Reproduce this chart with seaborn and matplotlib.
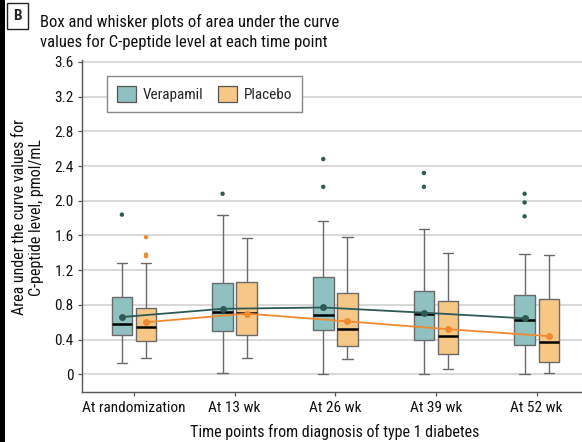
import numpy as np
import pandas as pd
import matplotlib
matplotlib.use("Agg")
import matplotlib.pyplot as plt
from matplotlib import font_manager
from matplotlib.patches import Patch, Rectangle
import seaborn as sns

# ---------------- data ----------------
times = ["At randomization", "At 13 wk", "At 26 wk", "At 39 wk", "At 52 wk"]
groups = ["Verapamil", "Placebo"]

ver_low = [0.13, 0.02, 0.0, 0.0, 0.0]
ver_q1 = [0.45, 0.50, 0.51, 0.39, 0.34]
ver_med = [0.58, 0.72, 0.68, 0.69, 0.63]
ver_q3 = [0.89, 1.05, 1.12, 0.96, 0.91]
ver_high = [1.28, 1.83, 1.77, 1.67, 1.39]
ver_mean = [0.66, 0.755, 0.77, 0.71, 0.645]
ver_fliers = [[1.84], [2.08], [2.48, 2.16], [2.32, 2.16], [2.08, 1.98, 1.82]]

pla_low = [0.19, 0.19, 0.18, 0.06, 0.02]
pla_q1 = [0.385, 0.45, 0.33, 0.23, 0.14]
pla_med = [0.54, 0.705, 0.52, 0.445, 0.37]
pla_q3 = [0.765, 1.065, 0.935, 0.84, 0.87]
pla_high = [1.28, 1.57, 1.58, 1.40, 1.38]
pla_mean = [0.60, 0.70, 0.61, 0.52, 0.44]
pla_fliers = [[1.58, 1.38, 1.36], [], [], [], []]

yticks = [0, 0.4, 0.8, 1.2, 1.6, 2.0, 2.4, 2.8, 3.2, 3.6]
ytick_labels = ["0", "0.4", "0.8", "1.2", "1.6", "2.0", "2.4", "2.8", "3.2", "3.6"]

# ---------------- style ----------------
sns.set_style("white")


def pick_condensed():
    prefs = ["Roboto Condensed", "Liberation Sans Narrow", "Open Sans Condensed",
             "Noto Sans Condensed", "DejaVu Sans Condensed"]
    names = {f.name for f in font_manager.fontManager.ttflist}
    for p in prefs:
        if p in names:
            return p, "normal"
    for f in font_manager.fontManager.ttflist:
        st = str(f.stretch).lower()
        fn = f.fname.lower()
        if (st in ("condensed", "semi-condensed") or "condensed" in fn) and \
                f.style == "normal" and str(f.weight) in ("400", "normal", "regular"):
            return f.name, st if st in ("condensed", "semi-condensed") else "condensed"
    return None, "normal"


cname, cstretch = pick_condensed()
if cname is not None:
    FAM = [cname, "DejaVu Sans"]
    plt.rcParams["font.stretch"] = cstretch
    FS = 11
else:
    FAM = ["Roboto", "DejaVu Sans"]
    FS = 10
plt.rcParams["font.family"] = FAM

box_palette = {"Verapamil": "#8fc1c0", "Placebo": "#f6c785"}
dot_palette = {"Verapamil": "#2e5a55", "Placebo": "#f08a30"}
offsets = {"Verapamil": -0.12, "Placebo": 0.12}

# tables built from the arrays
stats = {
    "Verapamil": (ver_low, ver_q1, ver_med, ver_q3, ver_high, ver_mean, ver_fliers),
    "Placebo": (pla_low, pla_q1, pla_med, pla_q3, pla_high, pla_mean, pla_fliers),
}
box_rows, mean_rows, flier_rows = [], [], []
for g in groups:
    lo, q1, md, q3, hi, mn, fl = stats[g]
    for i, t in enumerate(times):
        for v in (lo[i], q1[i], md[i], q3[i], hi[i]):
            box_rows.append({"time": t, "group": g, "value": v})
        mean_rows.append({"xpos": i + offsets[g], "group": g, "mean": mn[i]})
        for v in fl[i]:
            flier_rows.append({"xpos": i + offsets[g], "group": g, "value": v})
box_df = pd.DataFrame(box_rows)
mean_df = pd.DataFrame(mean_rows)
flier_df = pd.DataFrame(flier_rows)

# ---------------- figure ----------------
W, H = 582, 442
fig = plt.figure(figsize=(W / 100, H / 100), dpi=100)
ax_bottom, ax_top = 392.3, 60.1
ax = fig.add_axes([82 / W, 1 - ax_bottom / H, 1 - 82 / W, (ax_bottom - ax_top) / H])

sns.boxplot(data=box_df, x="time", y="value", hue="group", order=times,
            hue_order=groups, palette=box_palette, saturation=1,
            width=0.48, gap=0.15, whis=(0, 100), showfliers=False,
            linecolor="#6a6a6a", linewidth=1.0,
            medianprops={"color": "black", "linewidth": 1.8},
            legend=False, ax=ax)

sns.lineplot(data=mean_df, x="xpos", y="mean", hue="group", hue_order=groups,
             palette=dot_palette, marker="o", markersize=5,
             markeredgewidth=0, linewidth=1.3, sort=False, legend=False,
             ax=ax, zorder=5)

sns.scatterplot(data=flier_df, x="xpos", y="value", hue="group",
                hue_order=groups, palette=dot_palette, s=10, linewidth=0,
                legend=False, ax=ax, zorder=5)

ax.set_xlim(-0.516, 4.45)
ax.set_ylim(-0.207, 3.62)
ax.set_yticks(yticks)
ax.set_yticklabels(ytick_labels)
ax.set_xticks(range(len(times)))
ax.set_xticklabels(times)
ax.set_xlabel("")
ax.set_ylabel("")
ax.yaxis.grid(True, color="#d6d6d6", linewidth=1.3)
ax.set_axisbelow(True)
for s in ("top", "right"):
    ax.spines[s].set_visible(False)
for s in ("left", "bottom"):
    ax.spines[s].set_color("#555555")
    ax.spines[s].set_linewidth(1.0)
ax.tick_params(axis="both", direction="out", length=3, width=0.9,
               color="#555555", labelsize=FS, labelcolor="#111111", pad=3,
               left=True, bottom=True)

handles = [Patch(facecolor=box_palette[g], edgecolor="#555555", linewidth=0.9,
                 label=g) for g in groups]
ax.legend(handles=handles, loc="upper left",
          bbox_to_anchor=((107.3 - 82) / (W - 82), (ax_bottom - 76) / (ax_bottom - ax_top)),
          ncol=2, frameon=True, fancybox=False, edgecolor="#888888",
          framealpha=1, handlelength=1.25, handleheight=1.25,
          columnspacing=1.0, handletextpad=0.4, borderpad=0.65,
          borderaxespad=0, fontsize=FS)

# titles and labels
fig.text(17.5 / W, 1 - 16 / H, "B", ha="center", va="center",
         fontsize=FS, fontweight="bold",
         bbox=dict(boxstyle="square,pad=0.38", fc="white", ec="#222222", lw=1))
fig.text(40 / W, 1 - 27.3 / H, "Box and whisker plots of area under the curve",
         ha="left", va="baseline", fontsize=FS + 1, color="#111111")
fig.text(40 / W, 1 - 47.3 / H, "values for C-peptide level at each time point",
         ha="left", va="baseline", fontsize=FS + 1, color="#111111")
fig.text(28 / W, 1 - 217 / H,
         "Area under the curve values for\nC-peptide level, pmol/mL",
         rotation=90, ha="center", va="center", multialignment="center",
         fontsize=FS + 0.5, linespacing=1.15, color="#111111")
fig.text(334.5 / W, 1 - 437 / H,
         "Time points from diagnosis of type 1 diabetes",
         ha="center", va="baseline", fontsize=FS + 0.5, color="#111111")

fig.patches.append(Rectangle((0, 0), 5 / W, 1, transform=fig.transFigure,
                             facecolor="black", edgecolor="none"))

fig.savefig("out.png", dpi=100)
